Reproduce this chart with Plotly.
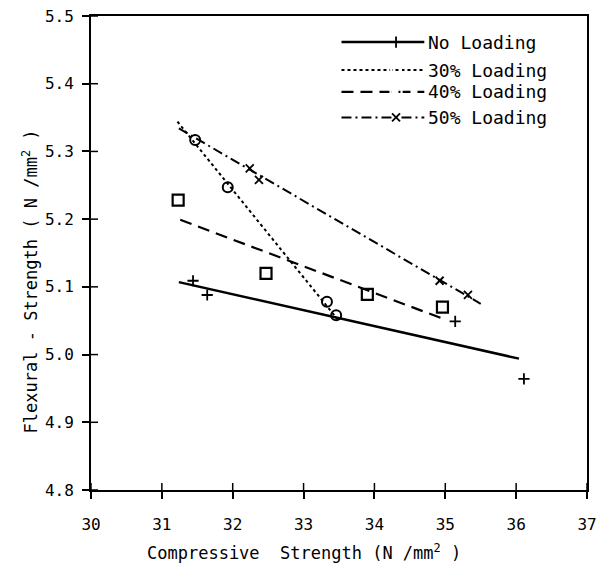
import plotly.graph_objects as go

# ---- data ----
x_no = [31.44, 31.64, 35.14, 36.11]
y_no = [5.109, 5.088, 5.049, 4.964]
x_30 = [31.47, 31.93, 33.33, 33.46]
y_30 = [5.317, 5.247, 5.078, 5.058]
x_40 = [31.23, 32.47, 33.90, 34.96]
y_40 = [5.228, 5.120, 5.089, 5.070]
x_50 = [32.24, 32.37, 34.92, 35.32]
y_50 = [5.275, 5.258, 5.109, 5.088]

fit_no_x = [31.24, 36.04]
fit_no_y = [5.107, 4.994]
fit_30_x = [31.22, 33.48]
fit_30_y = [5.344, 5.052]
fit_40_x = [31.26, 34.99]
fit_40_y = [5.199, 5.052]
fit_50_x = [31.24, 35.50]
fit_50_y = [5.334, 5.075]

series_names = ["No Loading", "30% Loading", "40% Loading", "50% Loading"]
x_ticks = [30, 31, 32, 33, 34, 35, 36, 37]
y_ticks = [4.8, 4.9, 5.0, 5.1, 5.2, 5.3, 5.4, 5.5]
y_tick_text = ["4.8", "4.9", "5.0", "5.1", "5.2", "5.3", "5.4", "5.5"]

FONT = "DejaVu Sans Mono"
BLACK = "black"
X_MIN, X_MAX = 30, 37
Y_MIN, Y_MAX = 4.8, 5.5

styles = [
    dict(dash="solid", width=2.5, symbol="cross-thin", msize=8, mlw=1.8),
    dict(dash="dot", width=2, symbol="circle-open", msize=10, mlw=2),
    dict(dash="12px,7px", width=2.2, symbol="square-open", msize=11, mlw=2.2),
    dict(dash="10px,4px,2px,4px", width=2, symbol="x-thin", msize=8, mlw=1.8),
]

pts = [(x_no, y_no), (x_30, y_30), (x_40, y_40), (x_50, y_50)]
fits = [(fit_no_x, fit_no_y), (fit_30_x, fit_30_y), (fit_40_x, fit_40_y), (fit_50_x, fit_50_y)]

fig = go.Figure()

for name, st, (fx, fy), (px, py) in zip(series_names, styles, fits, pts):
    fig.add_trace(go.Scatter(x=fx, y=fy, mode="lines", showlegend=False,
                             line=dict(color=BLACK, width=st["width"], dash=st["dash"]),
                             hoverinfo="skip", name=name + " fit"))
    fig.add_trace(go.Scatter(x=px, y=py, mode="markers", showlegend=False, name=name,
                             marker=dict(symbol=st["symbol"], size=st["msize"], color=BLACK,
                                         line=dict(color=BLACK, width=st["mlw"]))))

# ---- custom legend (line sample with marker near its right end) ----
leg_rows = [0.945, 0.886, 0.840, 0.786]
leg_x0, leg_x1, leg_mx, leg_tx = 0.505, 0.672, 0.615, 0.676
for name, st, yy in zip(series_names, styles, leg_rows):
    fig.add_trace(go.Scatter(x=[leg_x0, leg_x1], y=[yy, yy], xaxis="x3", yaxis="y3",
                             mode="lines", showlegend=False, hoverinfo="skip",
                             line=dict(color=BLACK, width=st["width"], dash=st["dash"])))
    fig.add_trace(go.Scatter(x=[leg_mx], y=[yy], xaxis="x3", yaxis="y3",
                             mode="markers", showlegend=False, hoverinfo="skip",
                             marker=dict(symbol=st["symbol"], size=st["msize"], color="white",
                                         line=dict(color=BLACK, width=st["mlw"]))))
    fig.add_annotation(x=leg_tx, y=yy, xref="x3", yref="y3", text=name, showarrow=False,
                       xanchor="left", yanchor="middle",
                       font=dict(family=FONT, size=18, color=BLACK))

# inside half of the crossing tick marks
for tv in x_ticks:
    fig.add_shape(type="line", xref="x", yref="y", x0=tv, x1=tv,
                  ysizemode="pixel", yanchor=Y_MIN, y0=0, y1=7,
                  line=dict(color=BLACK, width=1.5))
for tv in y_ticks:
    fig.add_shape(type="line", xref="x", yref="y", y0=tv, y1=tv,
                  xsizemode="pixel", xanchor=X_MIN, x0=0, x1=7,
                  line=dict(color=BLACK, width=1.5))

axis_common = dict(showgrid=False, zeroline=False, linecolor=BLACK, linewidth=2,
                   tickcolor=BLACK, tickwidth=1.5, ticklen=7, automargin=False,
                   ticklabeloverflow="allow")

fig.update_layout(
    width=599, height=564,
    margin=dict(l=91, r=12, t=16, b=74),
    paper_bgcolor="white", plot_bgcolor="white",
    showlegend=False,
    font=dict(family=FONT, size=15, color=BLACK),
    xaxis=dict(range=[X_MIN, X_MAX], tickvals=x_ticks, ticks="outside", mirror=True,
               showline=True, ticklabelstandoff=12,
               tickfont=dict(family=FONT, size=16, color=BLACK), **axis_common),
    yaxis=dict(range=[Y_MIN, Y_MAX], tickvals=y_ticks, ticktext=y_tick_text, ticks="outside",
               mirror=True, showline=True, ticklabelstandoff=5,
               tickfont=dict(family=FONT, size=16, color=BLACK), **axis_common),
    xaxis3=dict(range=[0, 1], overlaying="x", visible=False, anchor="y3", automargin=False),
    yaxis3=dict(range=[0, 1], overlaying="y", visible=False, anchor="x3", automargin=False),
)

# axis titles
fig.add_annotation(text="Compressive  Strength (N /mm<sup>2</sup> )", xref="paper", yref="paper",
                   x=0.43, y=-0.13, xanchor="center", yanchor="middle", showarrow=False,
                   font=dict(family=FONT, size=17, color=BLACK))
fig.add_annotation(text="Flexural - Strength ( N /mm<sup>2</sup> )", xref="paper", yref="paper",
                   x=-0.123, y=0.44, xanchor="center", yanchor="middle", showarrow=False,
                   textangle=-90, font=dict(family=FONT, size=17, color=BLACK))

fig.write_html("out.html", config={"displayModeBar": False},
               post_script="document.body.style.margin='0';document.body.style.overflow='hidden';")
